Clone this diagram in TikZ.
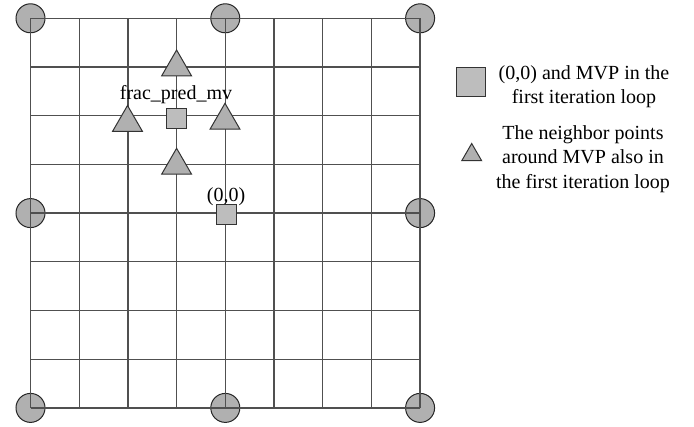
\documentclass[tikz,border=0pt]{standalone}
\usepackage{fontspec}
\setmainfont{Liberation Serif}
\usetikzlibrary{shapes.geometric}
\definecolor{gridc}{HTML}{505050}
\definecolor{fillc}{HTML}{B0B0B0}
\definecolor{sqc}{HTML}{BDBDBD}
\begin{document}
\begin{tikzpicture}[x=1pt,y=-1pt,
  corner/.style={circle,draw=black!85,line width=1pt,fill=fillc,minimum size=29pt,inner sep=0pt},
  sq/.style={rectangle,draw=black!80,line width=1pt,fill=sqc,minimum size=20pt,inner sep=0pt},
  tri/.style={regular polygon,regular polygon sides=3,draw=black!80,line width=1pt,fill=fillc,minimum size=34.6pt,inner sep=0pt},
  lbl/.style={font=\fontsize{20}{24}\selectfont,inner sep=0pt},
  leg/.style={font=\fontsize{20}{24.5}\selectfont,align=center,inner sep=0pt}]
\useasboundingbox (0,0) rectangle (694,427);
% corner circles
\foreach \i/\x/\y in {1/30.5/18.3,2/225.3/18.3,3/420.1/18.3,4/30.5/213.1,5/420.1/213.1,6/30.5/407.9,7/225.3/407.9,8/420.1/407.9}
  \node[corner] (c\i) at (\x,\y) {};
% grid
\foreach \k in {0,...,8} {
  \draw[gridc,line width=1.3pt] (30.5+48.7*\k,18.3) -- (30.5+48.7*\k,407.9);
  \draw[gridc,line width=1.3pt] (30.5,18.3+48.7*\k) -- (420.1,18.3+48.7*\k);
}
% triangles
\node[tri] (tTop) at (176.6,67.3) {};
\node[tri] (tLeft) at (127.5,122.8) {};
\node[tri] (tRight) at (225.0,120.6) {};
\node[tri] (tBot) at (176.6,165.6) {};
% squares
\node[sq] (mvp) at (176.5,119) {};
\node[sq] (zero) at (226,214.5) {};
% labels
\node[lbl] (lmvp) at (176,95) {frac\_pred\_mv};
\node[lbl] (lzero) at (226,197) {(0,0)};
% legend
\node[sq,minimum size=29pt] (legsq) at (471.3,82) {};
\node[leg] (legt1) at (584,86.5) {(0,0) and MVP in the\\first iteration loop};
\node[tri,minimum size=23pt] (legtri) at (471.7,155) {};
\node[leg] (legt2) at (583,159) {The neighbor points\\around MVP also in\\the first iteration loop};
\end{tikzpicture}
\end{document}
